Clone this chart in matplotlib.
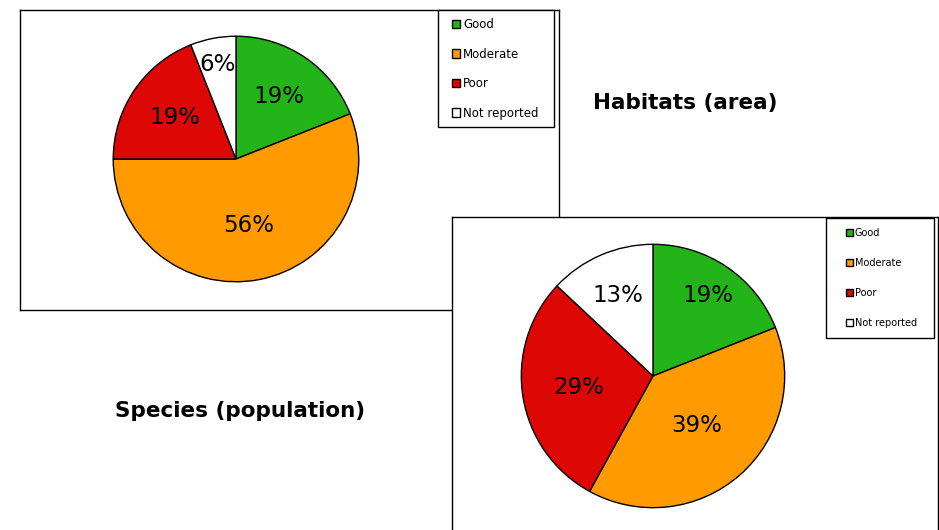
import matplotlib
matplotlib.use("Agg")
import matplotlib.pyplot as plt
from matplotlib.patches import Rectangle
import numpy as np

# Conservation status shares (%)
categories = ["Good", "Moderate", "Poor", "Not reported"]
habitats_area = [19, 56, 19, 6]
species_population = [19, 39, 29, 13]
colors = ["#22B418", "#FF9B00", "#DD0806", "#FFFFFF"]

W, H = 939, 530
fig = plt.figure(figsize=(W / 100, H / 100), dpi=100)
fig.patch.set_facecolor("white")


def px_axes(left, top, width, height, zorder=1):
    # axes placed from pixel box (top-left origin)
    return fig.add_axes([left / W, 1 - (top + height) / H, width / W, height / H], zorder=zorder)


def frame_box(ax):
    ax.set_xticks([])
    ax.set_yticks([])
    for s in ax.spines.values():
        s.set_linewidth(1.0)
        s.set_color("black")
    ax.set_facecolor("white")


def draw_pie(ax, values, label_dist):
    wedges, _, autotexts = ax.pie(
        values, colors=colors, startangle=90, counterclock=False,
        autopct="%d%%", radius=1.0,
        wedgeprops=dict(edgecolor="black", linewidth=1.0),
        textprops=dict(fontsize=16.5, color="black"),
    )
    # excel-like label placement: own radial distance per slice
    for w, t, d in zip(wedges, autotexts, label_dist):
        ang = np.deg2rad((w.theta1 + w.theta2) / 2)
        t.set_position((d * np.cos(ang), d * np.sin(ang)))
    ax.set_xlim(-1.01, 1.01)
    ax.set_ylim(-1.01, 1.01)
    ax.set_aspect("equal")
    return wedges


def add_legend(ax, wedges, box, first, fs, spacing, hlen, hpad):
    # box: left, top, right, bottom in pixels; first: (x, y) of first handle
    l, t, r, b = box
    frame = Rectangle((l / W, 1 - b / H), (r - l) / W, (b - t) / H,
                      transform=fig.transFigure, facecolor="white",
                      edgecolor="black", linewidth=1.0, zorder=5)
    frame.set_clip_on(False)
    ax.add_artist(frame)
    fs_px = fs * 100 / 72
    leg = ax.legend(
        wedges, categories, loc="upper left",
        bbox_to_anchor=(first[0] / W, 1 - (first[1] - fs_px / 2) / H),
        bbox_transform=fig.transFigure,
        borderaxespad=0, borderpad=0, fontsize=fs, frameon=False,
        handlelength=hlen, handleheight=hlen, handletextpad=hpad,
        labelspacing=spacing,
    )
    leg.set_zorder(6)
    return leg


# Habitats box
box1 = px_axes(20, 10, 539, 300, zorder=1)
frame_box(box1)
pie1 = px_axes(112, 35, 248, 248, zorder=2)
w1 = draw_pie(pie1, habitats_area, [0.62, 0.55, 0.60, 0.78])
add_legend(pie1, w1, (438, 10, 554, 127), (452, 24), 8.5, 1.4, 0.7, 0.25)

# Species box, drawn on top
box2 = px_axes(452, 217, 486, 320, zorder=3)
frame_box(box2)
pie2 = px_axes(520, 243, 266, 266, zorder=4)
w2 = draw_pie(pie2, species_population, [0.74, 0.50, 0.57, 0.67])
add_legend(pie2, w2, (826, 218, 934, 338), (846, 233), 7, 2.05, 0.72, 0.2)

fig.text(685 / W, 1 - 103 / H, "Habitats (area)", fontsize=15.5, fontweight="bold",
         ha="center", va="center")
fig.text(240 / W, 1 - 411 / H, "Species (population)", fontsize=15.5, fontweight="bold",
         ha="center", va="center")

fig.savefig("out.png", dpi=100, facecolor="white")
